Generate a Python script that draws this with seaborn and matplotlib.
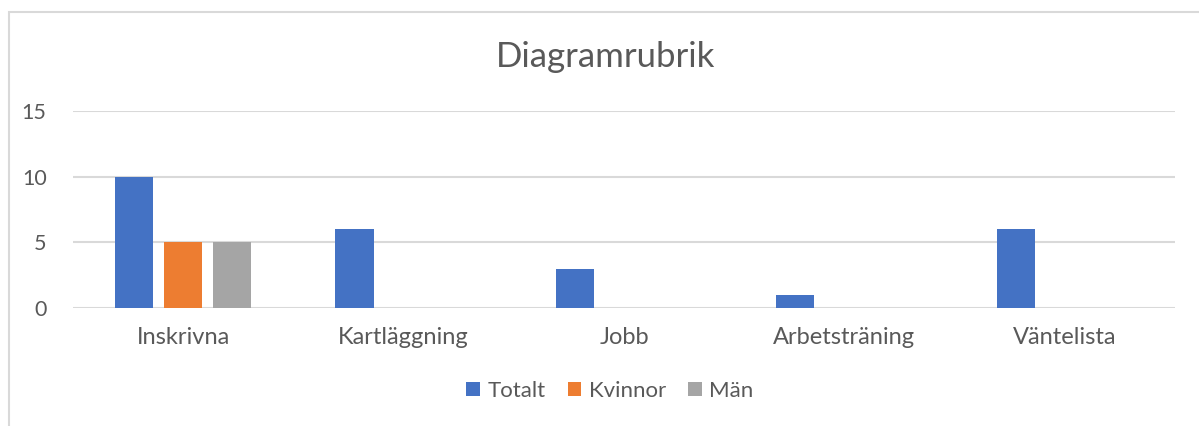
import numpy as np
import pandas as pd
import seaborn as sns
import matplotlib.pyplot as plt
from matplotlib.patches import Rectangle

categories = ["Inskrivna", "Kartläggning", "Jobb", "Arbetsträning", "Väntelista"]
totalt = [10, 6, 3, 1, 6]
kvinnor = [5, np.nan, np.nan, np.nan, np.nan]
man = [5, np.nan, np.nan, np.nan, np.nan]
series_names = ["Totalt", "Kvinnor", "Män"]
colors = ["#4472C4", "#ED7D31", "#A5A5A5"]

df = pd.DataFrame({
    "Kategori": categories * 3,
    "Serie": np.repeat(series_names, len(categories)),
    "Värde": totalt + kvinnor + man,
}).dropna()

sns.set_style("white")
plt.rcParams["font.family"] = ["Lato", "DejaVu Sans"]
text_color = "#595959"
grid_color = "#D9D9D9"

fig = plt.figure(figsize=(11.99, 4.26), dpi=100)
ax = fig.add_axes([0.0609, 0.277, 0.9191, 0.4624])

sns.barplot(
    data=df, x="Kategori", y="Värde", hue="Serie",
    order=categories, hue_order=series_names, palette=colors,
    saturation=1, width=0.668, gap=0.22, dodge=True, ax=ax, legend=True,
    err_kws={"linewidth": 0}, edgecolor="none",
)

ax.set_ylim(0, 15)
ax.set_yticks([0, 5, 10, 15])
ax.yaxis.grid(True, color=grid_color, linewidth=1.5)
ax.set_axisbelow(True)
for s in ax.spines.values():
    s.set_visible(False)
ax.set_xlabel("")
ax.set_ylabel("")
ax.tick_params(axis="both", length=0, labelcolor=text_color)
ax.tick_params(axis="x", labelsize=17, pad=14)
ax.tick_params(axis="y", labelsize=15.5, pad=19)

ax.legend(
    loc="center", bbox_to_anchor=(610 / 1199, 1 - 391 / 426),
    bbox_transform=fig.transFigure, ncol=3, frameon=False,
    fontsize=16, labelcolor=text_color, handlelength=0.6, handleheight=0.6,
    handletextpad=0.35, columnspacing=1.0,
)

fig.text(606 / 1199, 1 - 57 / 426, "Diagramrubrik", ha="center", va="center",
         fontsize=25, color=text_color)

fig.patches.append(Rectangle((9 / 1199, -0.1), 1.2, 1.1 - 12 / 426,
                             transform=fig.transFigure, fill=False,
                             edgecolor=grid_color, linewidth=1.5))

fig.savefig("out.png", dpi=100)
